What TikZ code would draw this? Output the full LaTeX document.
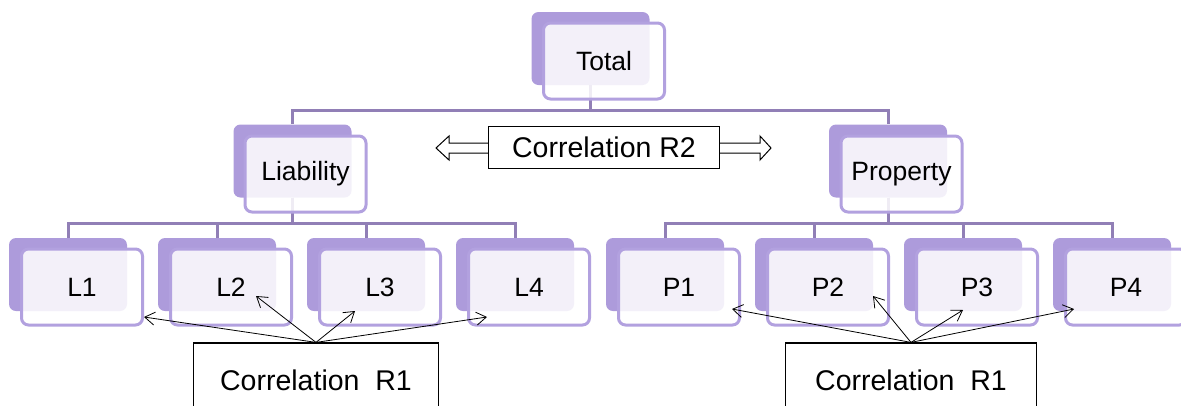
\documentclass[tikz,border=0pt]{standalone}
\usepackage{fontspec}
\setmainfont{Liberation Sans}
\usetikzlibrary{arrows.meta}
\definecolor{tilefill}{RGB}{173,155,219}
\definecolor{tileedge}{RGB}{178,161,223}
\definecolor{busline}{RGB}{145,127,182}

\begin{document}
\begin{tikzpicture}[x=1pt,y=-1pt,
  tileb/.style={fill=tilefill,rounded corners=7pt,minimum width=118pt,minimum height=73pt,inner sep=0pt},
  tilef/.style={draw=tileedge,line width=3pt,fill=white,fill opacity=.86,text opacity=1,rounded corners=7pt,
    minimum width=121pt,minimum height=76pt,inner sep=0pt,font=\fontsize{26.5}{30}\selectfont},
  bus/.style={draw=busline,line width=3pt},
  corr/.style={draw,line width=1.2pt,fill=white,inner sep=0pt,font=\fontsize{28.5}{33}\selectfont},
  pointer/.style={-{Straight Barb[length=10pt,width=13pt]},line width=0.8pt}]
\useasboundingbox (0,0) rectangle (1181,405);
% back tiles
\node[tileb] (tot-b) at (590.5,48.5) {};
\node[tileb] (liab-b) at (292.5,161) {};
\node[tileb] (prop-b) at (888,161) {};
\foreach \i/\x in {1/68,2/217,3/366,4/515}
  \node[tileb] (l\i-b) at (\x,274.5) {};
\foreach \i/\x in {1/665,2/814,3/963,4/1112}
  \node[tileb] (p\i-b) at (\x,274.5) {};
% tree lines
\draw[bus] (tot-b.south) -- ++(0,25.5) -| (liab-b.north);
\draw[bus] (tot-b.south) -- ++(0,25.5) -| (prop-b.north);
\foreach \i in {1,...,4} {
  \draw[bus] (liab-b.south) -- ++(0,26) -| (l\i-b.north);
  \draw[bus] (prop-b.south) -- ++(0,26) -| (p\i-b.north);
}
% front tiles
\node[tilef] (tot) at (604,61) {Total};
\node[tilef] (liab) at (305.5,174) {Liability};
\node[tilef] (prop) at (901.5,174) {Property};
\foreach \i/\x in {1/82,2/231,3/380,4/529}
  \node[tilef] (l\i) at (\x,287) {L\i};
\foreach \i/\x in {1/679,2/828,3/977,4/1126}
  \node[tilef] (p\i) at (\x,287) {P\i};
% correlation between the two groups
\draw[line width=1pt,fill=white] (436,148) -- (449,136) -- (449,143) -- (760,143) -- (760,136)
  -- (771,148) -- (760,160) -- (760,153) -- (449,153) -- (449,160) -- cycle;
\node[corr,minimum width=231pt,minimum height=42pt] (r2) at (604,147.5) {Correlation R2};
% correlation inside each group
\node[corr,minimum width=245pt,minimum height=74pt] (r1l) at (316,380) {Correlation\ \ R1};
\node[corr,minimum width=251pt,minimum height=74pt] (r1p) at (911,380) {Correlation\ \ R1};
\draw[pointer] (r1l.north) -- ([shift={(62,30)}]l1.center);
\draw[pointer] (r1l.north) -- ([shift={(25,9)}]l2.center);
\draw[pointer] (r1l.north) -- ([shift={(-25,24)}]l3.center);
\draw[pointer] (r1l.north) -- ([shift={(-42,30)}]l4.center);
\draw[pointer] (r1p.north) -- ([shift={(53,22)}]p1.center);
\draw[pointer] (r1p.north) -- ([shift={(45,9)}]p2.center);
\draw[pointer] (r1p.north) -- ([shift={(-14,23)}]p3.center);
\draw[pointer] (r1p.north) -- ([shift={(-52,22)}]p4.center);
\end{tikzpicture}
\end{document}
